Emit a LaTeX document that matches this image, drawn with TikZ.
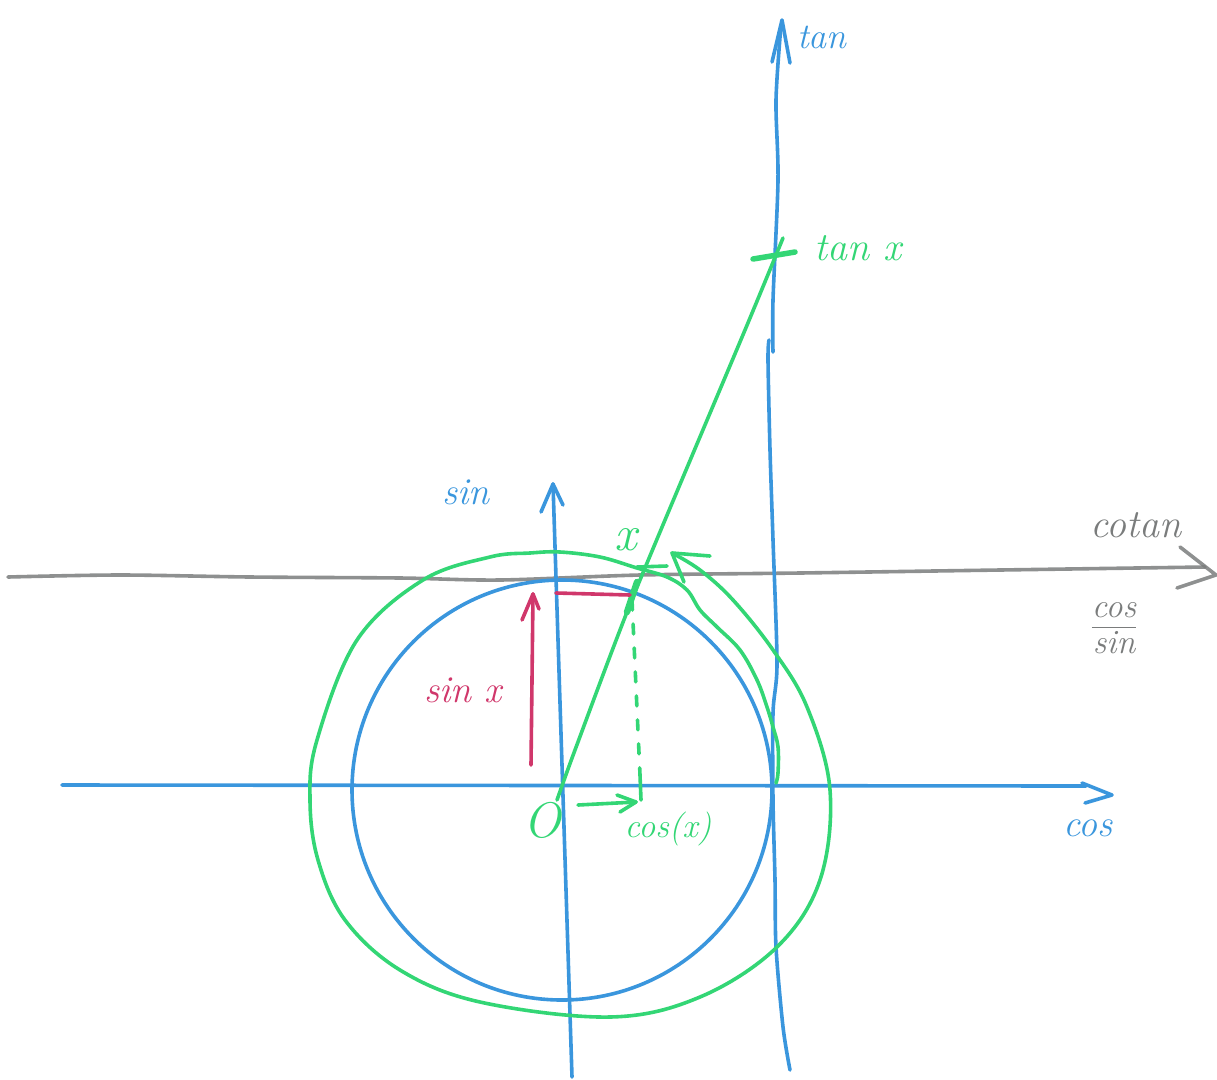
\documentclass[tikz,border=0pt]{standalone}
\usepackage{amsmath}
\definecolor{skblue}{HTML}{3A96DD}
\definecolor{skgreen}{HTML}{33D675}
\definecolor{skred}{HTML}{D0376B}
\definecolor{skgray}{HTML}{7A7C7C}
\begin{document}
\begin{tikzpicture}[x=1pt,y=-1pt, line cap=round, line join=round,
  pen/.style={line width=3.6pt},
  lbl/.style={inner sep=0pt, font=\fontsize{38}{38}\selectfont\itshape}]
\useasboundingbox (0,0) rectangle (1217,1079);

% key points
\coordinate (O) at (562,788);
\coordinate (P) at (631,593);
\coordinate (T) at (775,255);

% gray cotan line
\draw[pen, skgray, opacity=0.85] plot[smooth] coordinates {(8,577) (120,575) (250,577) (400,578) (500,580) (640,575) (800,573) (1000,570) (1205,567)};
\draw[pen, skgray, opacity=0.85] (1180,547) -- (1216,575) -- (1177,588);

% blue unit circle
\draw[pen, skblue] (562,790) circle[radius=210pt];

% horizontal cos axis
\draw[pen, skblue] (62,785) -- (1086,786);
\draw[pen, skblue] (1082,783) -- (1112,795) -- (1085,803);

% vertical sin axis
\draw[pen, skblue] (572,1077) -- (553,484);
\draw[pen, skblue] (541,512) -- (553,484) -- (563,505);

% tan axis
\draw[pen, skblue] plot[smooth] coordinates {(790,1070) (783,1027) (776,947) (775,880) (773,800) (773,713) (777,663) (773,540) (770,450) (768,360) (769,340)};
\draw[pen, skblue] plot[smooth] coordinates {(773,352) (773,300) (778,180) (776,100) (781,25)};
\draw[pen, skblue] (772,62) -- (782,20) -- (790,63);

% green ray from O to tan axis
\draw[pen, skgreen] plot[smooth, tension=0.4] coordinates {(557,800) (575,750) (633,597) (745,330) (783,238)};
\draw[skgreen, line width=6.5pt] (627,612) -- (637,582);
% tick at tan x
\draw[skgreen, line width=5.5pt] (753,259) -- (795,252);

% green loop (angle x)
\draw[pen, skgreen] plot[smooth, tension=0.6] coordinates {(776,783) (778,773) (778,747) (773,727) (767,707) (757,680) (740,650) (717,627) (700,610) (687,590) (667,577) (637,568) (600,557) (560,552) (530,553) (490,557) (423,580) (357,640) (317,740) (310,800) (318,860) (345,920) (400,970) (480,1002) (610,1017) (700,997) (777,947) (820,880) (830,790) (807,707) (773,650) (733,600) (700,570) (672,553)};
\draw[pen, skgreen] (710,556) -- (672,553) -- (684,582);
\draw[pen, skgreen] (637,567) -- (667,566);

% dashed projection
\draw[pen, skgreen, dash pattern=on 10pt off 14pt] (632,600) -- (640,775);
\draw[pen, skgreen] (640,775) -- (641,800);
% cos arrow
\draw[pen, skgreen] (578,805) -- (636,802);
\draw[pen, skgreen] (617,795) -- (636,802) -- (620,812);

% sin arrow (magenta)
\draw[pen, skred] (531,765) -- (533,594);
\draw[pen, skred] (522,620) -- (533,594) -- (539,609);
\draw[pen, skred] (556,593) -- (630,595);

% labels
\node[lbl, text=skblue, font=\fontsize{36}{36}\selectfont\itshape] (ltan) at (822,37) {tan};
\node[lbl, text=skgreen, font=\fontsize{40}{40}\selectfont\itshape] (ltanx) at (858,248) {tan x};
\node[lbl, text=skblue] (lsin) at (466,492) {sin};
\node[lbl, text=skgreen, font=\fontsize{50}{50}\selectfont\itshape] (lx) at (626,540) {x};
\node[lbl, text=skgray, font=\fontsize{40}{40}\selectfont\itshape] (lcotan) at (1136,525) {cotan};
\node[lbl, text=skgray, font=\fontsize{34}{34}\selectfont\itshape] (lfrac) at (1114,628) {$\dfrac{\textit{cos}}{\textit{sin}}$};
\node[lbl, text=skred] (lsinx) at (463,690) {sin x};
\node[lbl, text=skgreen, font=\fontsize{50}{50}\selectfont\itshape] (lO) at (542,820) {O};
\node[lbl, text=skgreen, font=\fontsize{34}{34}\selectfont\itshape] (lcosx) at (668,829) {cos(x)};
\node[lbl, text=skblue] (lcos) at (1088,828) {cos};
\end{tikzpicture}
\end{document}
